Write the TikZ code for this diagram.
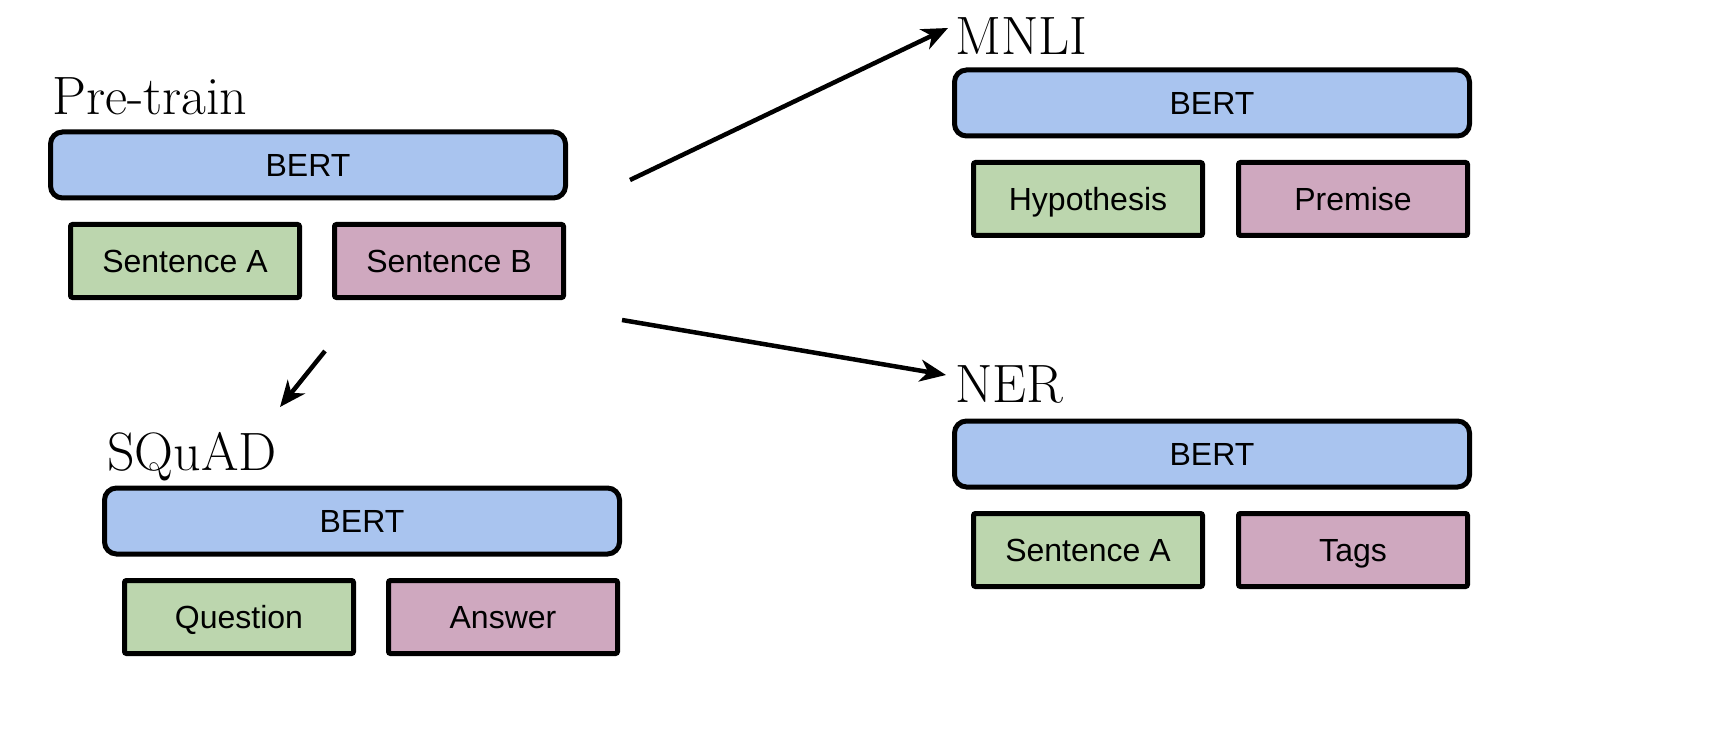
\documentclass[tikz,border=0pt]{standalone}
\usepackage{fontspec}
\usetikzlibrary{arrows.meta}
\newfontfamily\boxfont{Liberation Sans}
\definecolor{bertblue}{HTML}{A9C4EF}
\definecolor{segA}{HTML}{BCD6AE}
\definecolor{segB}{HTML}{CFA8BF}
\tikzset{
  bertbox/.style={draw, line width=5pt, rounded corners=12pt, fill=bertblue,
    minimum width=515pt, minimum height=66pt, text height=23pt, text depth=0pt,
    font=\boxfont\fontsize{32}{38}\selectfont},
  segbox/.style={draw, line width=5pt, rounded corners=2pt, fill=#1,
    minimum width=229pt, minimum height=73pt, text height=23pt, text depth=0pt,
    font=\boxfont\fontsize{32}{38}\selectfont},
  tasktitle/.style={anchor=base west, inner sep=0pt, font=\rmfamily\fontsize{54}{62}\selectfont},
  taskarrow/.style={-{Stealth[length=26pt,width=22pt,inset=8pt]}, line width=4.5pt}
}
\begin{document}
\begin{tikzpicture}[x=1pt,y=-1pt]
  \useasboundingbox (0,0) rectangle (1730,738);
  % pre-training
  \node[tasktitle] (pretitle) at (52,115) {Pre-train};
  \node[bertbox] (prebert) at (308,165) {BERT};
  \node[segbox=segA] (presa) at (185,261) {Sentence A};
  \node[segbox=segB] (presb) at (449,261) {Sentence B};
  % MNLI
  \node[tasktitle] (mnlititle) at (955,55) {MNLI};
  \node[bertbox] (mnlibert) at (1212,103) {BERT};
  \node[segbox=segA] (mnlihyp) at (1088,199) {Hypothesis};
  \node[segbox=segB] (mnlipre) at (1353,199) {Premise};
  % NER
  \node[tasktitle] (nertitle) at (955,402) {NER};
  \node[bertbox] (nerbert) at (1212,454) {BERT};
  \node[segbox=segA] (nersa) at (1088,550) {Sentence A};
  \node[segbox=segB] (nertags) at (1353,550) {Tags};
  % SQuAD
  \node[tasktitle] (squadtitle) at (107,470) {SQuAD};
  \node[bertbox] (squadbert) at (362,521) {BERT};
  \node[segbox=segA] (squadq) at (239,617) {Question};
  \node[segbox=segB] (squada) at (503,617) {Answer};
  % fine-tuning arrows
  \coordinate (mnlifrom) at (630,180);
  \coordinate (mnlito) at (948,28);
  \coordinate (nerfrom) at (622,320);
  \coordinate (nerto) at (946,375);
  \coordinate (squadfrom) at (325,351);
  \coordinate (squadto) at (280,407);
  \draw[taskarrow] (mnlifrom) -- (mnlito);
  \draw[taskarrow] (nerfrom) -- (nerto);
  \draw[taskarrow] (squadfrom) -- (squadto);
\end{tikzpicture}
\end{document}
